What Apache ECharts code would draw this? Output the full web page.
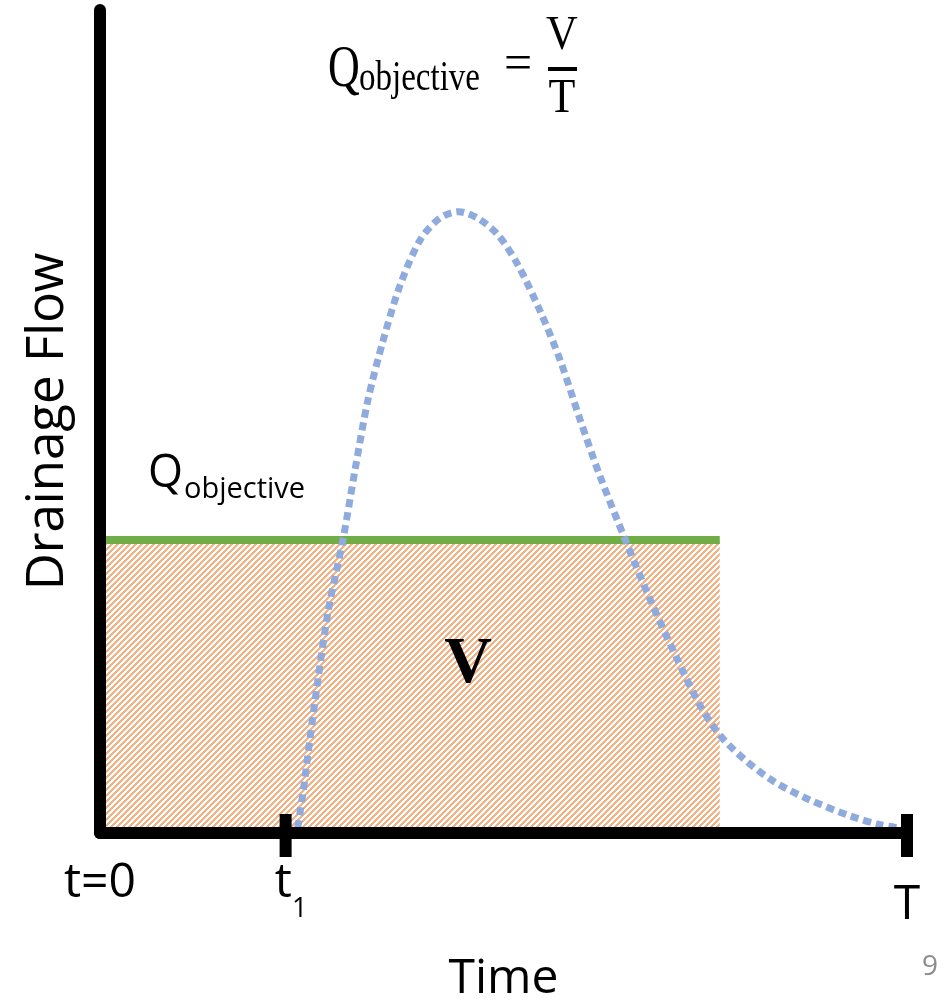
<!DOCTYPE html>
<html>
<head>
<meta charset="utf-8">
<script src="https://cdn.jsdelivr.net/npm/echarts@6/dist/echarts.min.js"></script>
<style>
html,body{margin:0;padding:0;background:#fff;}
#chart{width:946px;height:1001px;}
</style>
</head>
<body>
<div id="chart"></div>
<script>
// ---- data ----
const curveX = [24.5, 25.2, 26.0, 27.0, 28.3, 30.1, 31.6, 33.2, 35.1, 37.2, 39.7, 42.1, 44.4, 46.8, 49.3, 51.8, 54.5, 57.0, 59.5, 61.9, 65.1, 68.2, 71.3, 74.3, 76.8, 79.9, 83.6, 88.0, 92.9, 96.7, 99.1];
const curveY = [0.6, 5.2, 11.3, 18.6, 27.1, 35.6, 44.1, 52.6, 59.9, 66.6, 72.1, 74.7, 75.5, 74.7, 72.7, 69.0, 63.5, 57.5, 50.2, 43.5, 35.6, 28.3, 21.6, 15.6, 11.9, 8.9, 6.2, 4.0, 2.1, 1.0, 0.6];
const objectiveLevel = 35.6;
const objectiveStart = 0;
const objectiveEnd = 76.8;
const tickValues = [0, 23, 100];
const tickLabels = ['t=0', 't1', 'T'];
const markedTicks = [23, 100];

// ---- hatch pattern (pixel stairs, "/" direction) ----
const pc = document.createElement('canvas');
pc.width = 6; pc.height = 6;
const ctx = pc.getContext('2d');
ctx.fillStyle = '#F4B183';
for (let y = 0; y < 6; y++) {
  for (let x = 0; x < 6; x++) {
    if (((x + y) % 6) < 3) ctx.fillRect(x, y, 1, 1);
  }
}

const chart = echarts.init(document.getElementById('chart'));
const sans = '"Open Sans", sans-serif';

const option = {
  animation: false,
  backgroundColor: '#fff',
  grid: { left: 100, right: 39, top: 10, bottom: 168, outerBoundsMode: 'none', containLabel: false },
  xAxis: {
    type: 'value', min: 0, max: 100, z: 10,
    axisLine: { show: true, lineStyle: { color: '#000', width: 12, cap: 'round' } },
    axisTick: { show: false },
    splitLine: { show: false },
    axisLabel: {
      show: true,
      customValues: tickValues,
      margin: 26,
      color: '#000',
      fontFamily: sans,
      fontSize: 48,
      formatter: function (v) {
        const i = tickValues.indexOf(v);
        const s = tickLabels[i];
        if (s === 't1') return '{t|t}{s|1}';
        if (s === 'T') return '{T|T}';
        return s;
      },
      rich: {
        t: { fontFamily: sans, fontSize: 48, color: '#000', padding: [0, 0, 0, 11] },
        s: { fontFamily: sans, fontSize: 27, color: '#000', verticalAlign: 'bottom', padding: [0, 0, -16, 0] },
        T: { fontFamily: sans, fontSize: 48, color: '#000', padding: [22, 0, 0, 0] }
      }
    },
    name: 'Time',
    nameLocation: 'middle',
    nameGap: 122,
    nameTextStyle: { fontFamily: sans, fontSize: 48, color: '#000' }
  },
  yAxis: {
    type: 'value', min: 0, max: 100, z: 10,
    axisLine: { show: true, lineStyle: { color: '#000', width: 12, cap: 'round' } },
    axisTick: { show: false },
    axisLabel: { show: false },
    splitLine: { show: false },
    name: 'Drainage Flow',
    nameLocation: 'middle',
    nameGap: 26,
    nameTextStyle: { fontFamily: sans, fontSize: 51, color: '#000' }
  },
  series: [
    {
      type: 'line',
      data: [[objectiveStart, objectiveLevel], [objectiveEnd, objectiveLevel]],
      symbol: 'none',
      z: 2,
      lineStyle: { color: '#70AD47', width: 8 },
      areaStyle: { color: { image: pc, repeat: 'repeat' }, opacity: 1 }
    },
    {
      type: 'line',
      data: curveX.map(function (x, i) { return [x, curveY[i]]; }),
      symbol: 'none',
      smooth: 0.3,
      z: 3,
      lineStyle: { color: '#8FAADC', width: 7, type: [8, 5], cap: 'butt' }
    },
    {
      type: 'scatter',
      data: markedTicks.map(function (x) { return [x, 0]; }),
      symbol: 'rect',
      symbolSize: [12, 43],
      symbolOffset: [0, 2.5],
      z: 12,
      itemStyle: { color: '#000', opacity: 1 },
      silent: true
    }
  ],
  graphic: [
    { type: 'text', x: 328, y: 70, scaleY: 1.35, z: 20,
      style: { x: 0, y: 0, text: 'Q', font: '44px "Liberation Serif"', fill: '#000', align: 'left', verticalAlign: 'middle' } },
    { type: 'text', x: 359, y: 79, scaleY: 1.3, z: 20,
      style: { x: 0, y: 0, text: 'objective', font: '33px "Liberation Serif"', fill: '#000', align: 'left', verticalAlign: 'middle' } },
    { type: 'text', x: 518, y: 66, z: 20,
      style: { x: 0, y: 0, text: '=', font: '50px "Liberation Serif"', fill: '#000', align: 'center', verticalAlign: 'middle' } },
    { type: 'text', x: 562, y: 36, scaleY: 1.1, z: 20,
      style: { x: 0, y: 0, text: 'V', font: '44px "Liberation Serif"', fill: '#000', align: 'center', verticalAlign: 'middle' } },
    { type: 'rect', z: 20, shape: { x: 548, y: 67, width: 29, height: 4 }, style: { fill: '#000' } },
    { type: 'text', x: 562, y: 99, scaleY: 1.1, z: 20,
      style: { x: 0, y: 0, text: 'T', font: '44px "Liberation Serif"', fill: '#000', align: 'center', verticalAlign: 'middle' } },
    { type: 'text', x: 148, y: 474, z: 20,
      style: { x: 0, y: 0, text: 'Q', font: '45px "Open Sans"', fill: '#000', align: 'left', verticalAlign: 'middle' } },
    { type: 'text', x: 184, y: 490, z: 20,
      style: { x: 0, y: 0, text: 'objective', font: '29px "Open Sans"', fill: '#000', align: 'left', verticalAlign: 'middle' } },
    { type: 'text', x: 468, y: 665, z: 20,
      style: { x: 0, y: 0, text: 'V', font: 'bold 66px "Liberation Serif"', fill: '#000', align: 'center', verticalAlign: 'middle' } },
    { type: 'text', x: 930, y: 967, z: 20,
      style: { x: 0, y: 0, text: '9', font: '28px "Open Sans"', fill: '#8C8C8C', align: 'center', verticalAlign: 'middle' } }
  ]
};
chart.setOption(option);
</script>
</body>
</html>
